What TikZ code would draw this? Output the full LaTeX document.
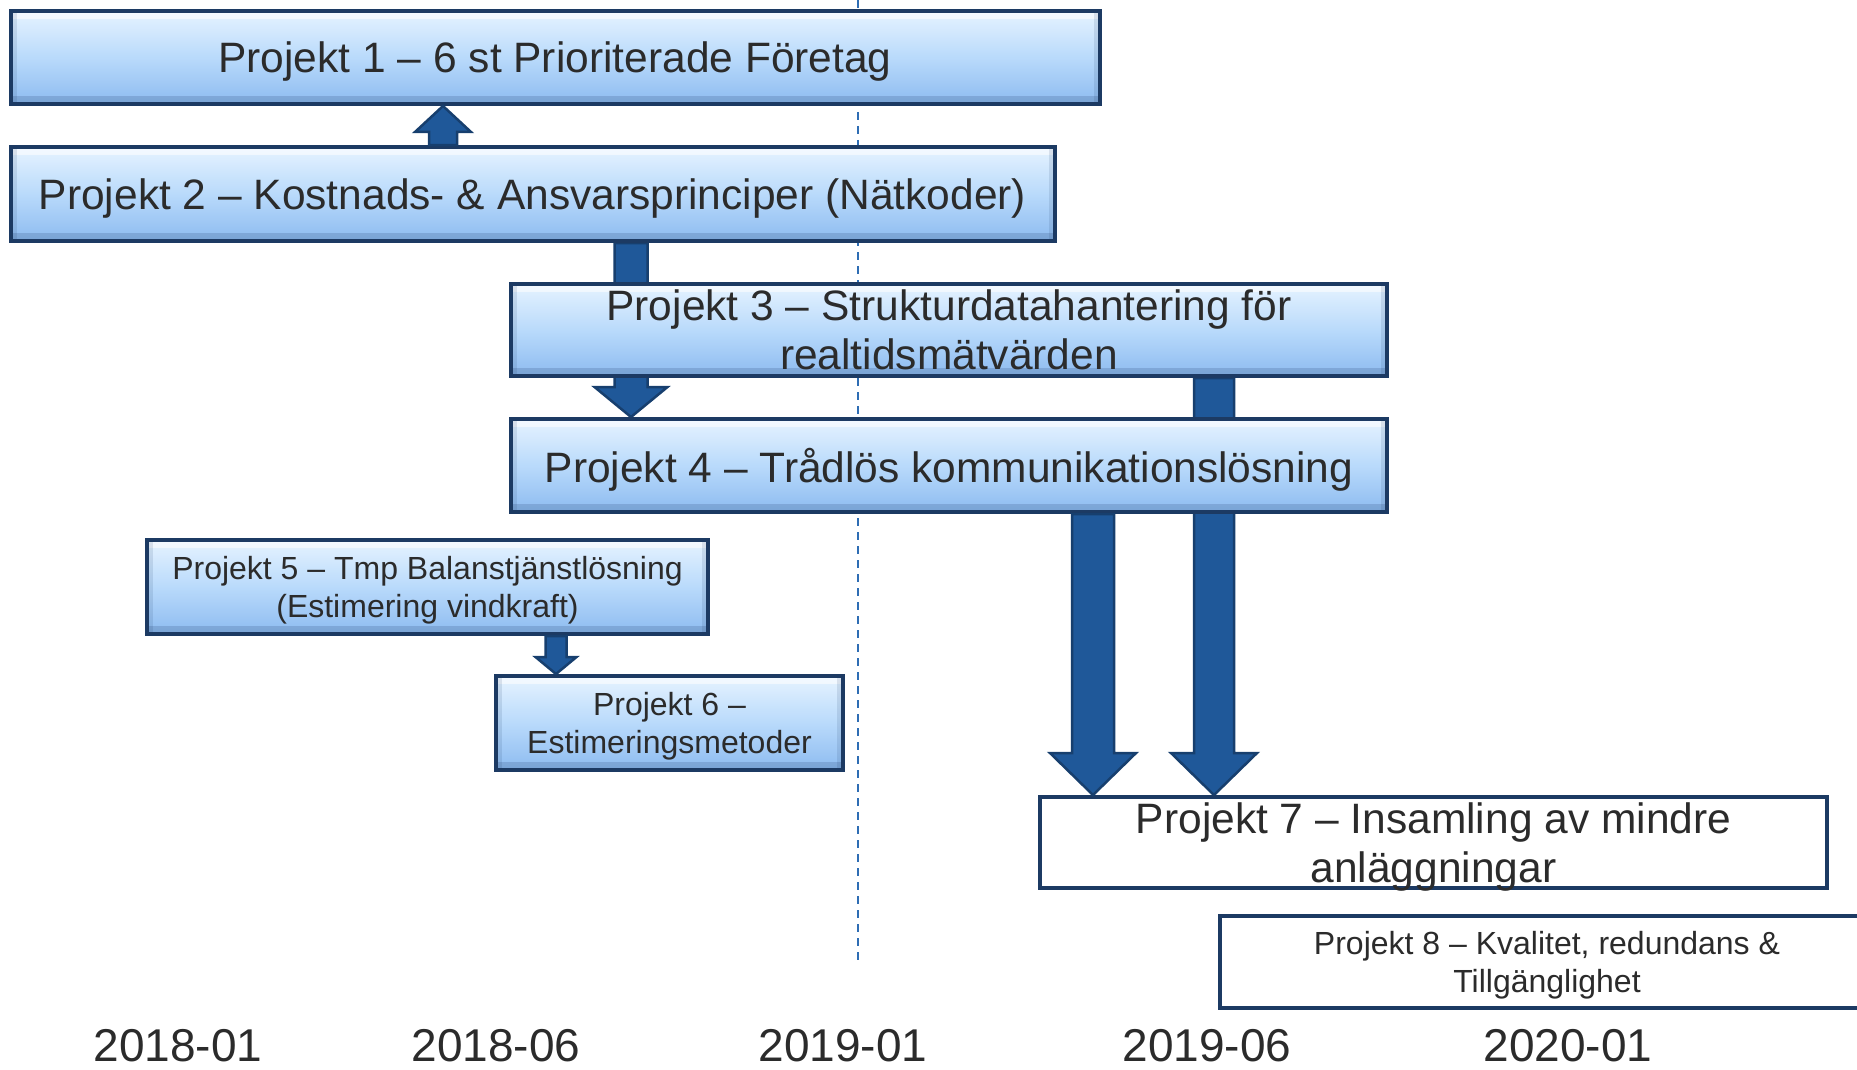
\documentclass[tikz,border=0pt]{standalone}
\usepackage{fontspec}
\setmainfont{Liberation Sans}
\usetikzlibrary{calc}

\definecolor{boxline}{HTML}{1C3A63}
\definecolor{boxtop}{HTML}{E6F3FF}
\definecolor{boxmid}{HTML}{B9DAFB}
\definecolor{boxbot}{HTML}{8DBBF0}
\definecolor{arrowfill}{HTML}{1F5899}
\definecolor{arrowline}{HTML}{173F6E}
\definecolor{txt}{HTML}{2B2B2B}
\definecolor{guide}{HTML}{2E6DB4}

\pgfdeclarelayer{bg}
\pgfdeclarelayer{under}
\pgfsetlayers{bg,under,main}

\tikzset{
  bevel/.style={path picture={
    \fill[white,opacity=.55] (path picture bounding box.north west) rectangle ([yshift=-8pt]path picture bounding box.north east);
    \fill[boxline,opacity=.18] ([yshift=8pt]path picture bounding box.south west) rectangle (path picture bounding box.south east);
    \fill[boxline,opacity=.12] (path picture bounding box.south west) rectangle ([xshift=6pt]path picture bounding box.north west);
    \fill[boxline,opacity=.12] ([xshift=-6pt]path picture bounding box.south east) rectangle (path picture bounding box.north east);
  }},
  proj/.style={draw=boxline, line width=4pt, inner sep=0pt, align=center, text=txt,
    text depth=0pt, top color=boxtop, bottom color=boxbot, middle color=boxmid, bevel},
  projplain/.style={draw=boxline, line width=4pt, inner sep=0pt, align=center, text=txt,
    text depth=0pt, fill=white},
  bigtext/.style={font=\fontsize{42.5}{49}\selectfont},
  smalltext/.style={font=\fontsize{32}{38.5}\selectfont},
  datelabel/.style={font=\fontsize{46}{52}\selectfont, text=txt, anchor=base, inner sep=0pt},
  blockarrow/.style={fill=arrowfill, draw=arrowline, line width=2.5pt, line join=miter},
  guideline/.style={draw=guide, line width=2pt, dash pattern=on 8pt off 6pt},
}

% block arrow: #1 start, #2 tip, #3 shaft half width, #4 head half width, #5 head length
\newcommand\blockarr[5]{%
  \draw[blockarrow] let \p1=(#1), \p2=(#2), \n1={sign(\y2-\y1)} in
    ({\x1-#3pt},\y1) -- ({\x1-#3pt},{\y2-(\n1)*#5pt}) -- ({\x1-#4pt},{\y2-(\n1)*#5pt})
    -- (\x1,\y2) -- ({\x1+#4pt},{\y2-(\n1)*#5pt}) -- ({\x1+#3pt},{\y2-(\n1)*#5pt})
    -- ({\x1+#3pt},\y1) -- cycle;}

\begin{document}
\begin{tikzpicture}[x=1pt,y=-1pt]
\useasboundingbox (0,0) rectangle (1857,1070);

% project boxes
\node[proj,bigtext,minimum width=1089pt,minimum height=93pt] (p1) at (555,57.5)
  {Projekt 1 – 6 st Prioriterade Företag};
\node[proj,bigtext,minimum width=1044pt,minimum height=94pt] (p2) at (532.5,194)
  {Projekt 2 – Kostnads- \& Ansvarsprinciper (Nätkoder)};
\node[proj,bigtext,text depth=,minimum width=876pt,minimum height=92pt] (p3) at (949,330)
  {Projekt 3 – Strukturdatahantering för\\realtidsmätvärden};
\node[proj,bigtext,minimum width=876pt,minimum height=93pt] (p4) at (949,465.5)
  {Projekt 4 – Trådlös kommunikationslösning};
\node[proj,smalltext,minimum width=561pt,minimum height=94pt] (p5) at (427.5,587)
  {Projekt 5 – Tmp Balanstjänstlösning\\(Estimering vindkraft)};
\node[proj,smalltext,minimum width=347pt,minimum height=94pt] (p6) at (669.5,723)
  {Projekt 6 –\\Estimeringsmetoder};
\node[projplain,bigtext,minimum width=787pt,minimum height=91pt] (p7) at (1433.5,842.5)
  {Projekt 7 – Insamling av mindre\\anläggningar};
\node[projplain,smalltext,minimum width=654pt,minimum height=92pt] (p8) at (1547,962)
  {Projekt 8 – Kvalitet, redundans \&\\Tillgänglighet};

% columns of the arrows
\coordinate (cA) at (443,0);
\coordinate (cB) at (631,0);
\coordinate (cC) at (1214,0);
\coordinate (cD) at (1093,0);
\coordinate (cE) at (556,0);

% time marker
\coordinate (gtop) at (858,0);
\coordinate (gbot) at (858,963);
\begin{pgfonlayer}{bg}
  \draw[guideline] (gtop) -- (gbot);
\end{pgfonlayer}

% arrows running behind boxes
\begin{pgfonlayer}{under}
  \blockarr{cB |- p2.south}{cB |- p4.north}{16.5}{36.5}{30}
  \blockarr{cC |- p3.south}{cC |- p7.north}{20}{43}{42}
\end{pgfonlayer}

% arrows on top
\blockarr{cA |- p2.north}{cA |- p1.south}{14}{28}{26}
\blockarr{cD |- p4.south}{cD |- p7.north}{21}{43}{42}
\blockarr{cE |- p5.south}{cE |- p6.north}{10.5}{20.5}{17}

% time axis
\node[datelabel] (d1) at (178,1061) {2018-01};
\node[datelabel] (d2) at (496,1061) {2018-06};
\node[datelabel] (d3) at (843,1061) {2019-01};
\node[datelabel] (d4) at (1207,1061) {2019-06};
\node[datelabel] (d5) at (1568,1061) {2020-01};
\end{tikzpicture}
\end{document}
